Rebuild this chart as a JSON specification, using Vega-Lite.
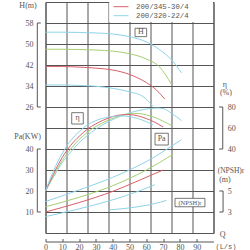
{
  "$schema": "https://vega.github.io/schema/vega-lite/v6.json",
  "width": 168,
  "height": 231,
  "autosize": {"type": "none"},
  "padding": {"left": 45.5, "top": 2, "right": 36.5, "bottom": 17},
  "config": {
    "view": {"stroke": "#555", "strokeWidth": 1},
    "axis": {"labelFont": "Liberation Serif", "labelFontSize": 8, "labelColor": "#555", "gridColor": "#555", "gridWidth": 1, "gridOpacity": 1, "domainColor": "#555", "tickColor": "#555", "labelFlush": false, "labelOverlap": false},
    "text": {"font": "Liberation Serif", "fontSize": 8, "color": "#555"},
    "rule": {"color": "#555", "strokeWidth": 1}
  },
  "datasets": {
    "hd": [
      {"m": "200/400-45/4", "q": 0, "v": 54.5}, {"m": "200/400-45/4", "q": 10, "v": 54.5}, {"m": "200/400-45/4", "q": 20, "v": 54.4}, {"m": "200/400-45/4", "q": 30, "v": 54.2}, {"m": "200/400-45/4", "q": 40, "v": 53.8}, {"m": "200/400-45/4", "q": 50, "v": 52.8}, {"m": "200/400-45/4", "q": 60, "v": 50.8}, {"m": "200/400-45/4", "q": 68, "v": 47.8}, {"m": "200/400-45/4", "q": 75, "v": 44}, {"m": "200/400-45/4", "q": 81, "v": 39},
      {"m": "200/370-37/4", "q": 0, "v": 48}, {"m": "200/370-37/4", "q": 10, "v": 48}, {"m": "200/370-37/4", "q": 20, "v": 47.9}, {"m": "200/370-37/4", "q": 30, "v": 47.7}, {"m": "200/370-37/4", "q": 40, "v": 47.3}, {"m": "200/370-37/4", "q": 50, "v": 46.3}, {"m": "200/370-37/4", "q": 60, "v": 44.3}, {"m": "200/370-37/4", "q": 68, "v": 41.2}, {"m": "200/370-37/4", "q": 75, "v": 34.6},
      {"m": "200/345-30/4", "q": 0, "v": 41.4}, {"m": "200/345-30/4", "q": 10, "v": 41.4}, {"m": "200/345-30/4", "q": 20, "v": 41.2}, {"m": "200/345-30/4", "q": 30, "v": 40.8}, {"m": "200/345-30/4", "q": 40, "v": 40.1}, {"m": "200/345-30/4", "q": 50, "v": 38.4}, {"m": "200/345-30/4", "q": 60, "v": 35.3}, {"m": "200/345-30/4", "q": 66, "v": 32.5}, {"m": "200/345-30/4", "q": 71, "v": 29},
      {"m": "200/320-22/4", "q": 0, "v": 34.4}, {"m": "200/320-22/4", "q": 10, "v": 34.4}, {"m": "200/320-22/4", "q": 20, "v": 34.2}, {"m": "200/320-22/4", "q": 30, "v": 33.9}, {"m": "200/320-22/4", "q": 40, "v": 33.1}, {"m": "200/320-22/4", "q": 50, "v": 31.8}, {"m": "200/320-22/4", "q": 58, "v": 30}, {"m": "200/320-22/4", "q": 64, "v": 26.3}
    ],
    "ed": [
      {"m": "200/400-45/4", "q": 0, "v": 0}, {"m": "200/400-45/4", "q": 5, "v": 14}, {"m": "200/400-45/4", "q": 10, "v": 27}, {"m": "200/400-45/4", "q": 15, "v": 37}, {"m": "200/400-45/4", "q": 20, "v": 46}, {"m": "200/400-45/4", "q": 25, "v": 53}, {"m": "200/400-45/4", "q": 30, "v": 59}, {"m": "200/400-45/4", "q": 37.5, "v": 66}, {"m": "200/400-45/4", "q": 45, "v": 71.5}, {"m": "200/400-45/4", "q": 52.5, "v": 75.5}, {"m": "200/400-45/4", "q": 60, "v": 78}, {"m": "200/400-45/4", "q": 66, "v": 79}, {"m": "200/400-45/4", "q": 70, "v": 78.5}, {"m": "200/400-45/4", "q": 75, "v": 74}, {"m": "200/400-45/4", "q": 81, "v": 67},
      {"m": "200/370-37/4", "q": 0, "v": 0}, {"m": "200/370-37/4", "q": 5, "v": 15}, {"m": "200/370-37/4", "q": 10, "v": 29}, {"m": "200/370-37/4", "q": 15, "v": 40}, {"m": "200/370-37/4", "q": 20, "v": 49}, {"m": "200/370-37/4", "q": 25, "v": 56}, {"m": "200/370-37/4", "q": 30, "v": 61.5}, {"m": "200/370-37/4", "q": 37.5, "v": 67.5}, {"m": "200/370-37/4", "q": 45, "v": 72}, {"m": "200/370-37/4", "q": 50, "v": 73.5}, {"m": "200/370-37/4", "q": 55, "v": 73.8}, {"m": "200/370-37/4", "q": 60, "v": 72.5}, {"m": "200/370-37/4", "q": 66, "v": 69.5}, {"m": "200/370-37/4", "q": 70, "v": 66.5}, {"m": "200/370-37/4", "q": 75, "v": 62.5},
      {"m": "200/345-30/4", "q": 0, "v": 0}, {"m": "200/345-30/4", "q": 5, "v": 17}, {"m": "200/345-30/4", "q": 10, "v": 32}, {"m": "200/345-30/4", "q": 15, "v": 43.5}, {"m": "200/345-30/4", "q": 20, "v": 52}, {"m": "200/345-30/4", "q": 25, "v": 59}, {"m": "200/345-30/4", "q": 30, "v": 64}, {"m": "200/345-30/4", "q": 37.5, "v": 69.5}, {"m": "200/345-30/4", "q": 45, "v": 72.5}, {"m": "200/345-30/4", "q": 50, "v": 72.8}, {"m": "200/345-30/4", "q": 55, "v": 71.5}, {"m": "200/345-30/4", "q": 60, "v": 69}, {"m": "200/345-30/4", "q": 65, "v": 65.5}, {"m": "200/345-30/4", "q": 70, "v": 61},
      {"m": "200/320-22/4", "q": 0, "v": 0}, {"m": "200/320-22/4", "q": 5, "v": 20}, {"m": "200/320-22/4", "q": 10, "v": 36}, {"m": "200/320-22/4", "q": 15, "v": 48}, {"m": "200/320-22/4", "q": 20, "v": 56.5}, {"m": "200/320-22/4", "q": 25, "v": 63}, {"m": "200/320-22/4", "q": 30, "v": 67}, {"m": "200/320-22/4", "q": 37.5, "v": 70.5}, {"m": "200/320-22/4", "q": 45, "v": 71.5}, {"m": "200/320-22/4", "q": 50, "v": 70.8}, {"m": "200/320-22/4", "q": 55, "v": 69}, {"m": "200/320-22/4", "q": 60, "v": 66}, {"m": "200/320-22/4", "q": 64, "v": 63}
    ],
    "pd": [
      {"m": "200/400-45/4", "q": 0, "v": 15}, {"m": "200/400-45/4", "q": 20, "v": 20.5}, {"m": "200/400-45/4", "q": 40, "v": 26.5}, {"m": "200/400-45/4", "q": 60, "v": 34}, {"m": "200/400-45/4", "q": 81, "v": 44.5},
      {"m": "200/370-37/4", "q": 0, "v": 12.5}, {"m": "200/370-37/4", "q": 20, "v": 17}, {"m": "200/370-37/4", "q": 40, "v": 22.5}, {"m": "200/370-37/4", "q": 60, "v": 30}, {"m": "200/370-37/4", "q": 76, "v": 37.5},
      {"m": "200/345-30/4", "q": 0, "v": 10}, {"m": "200/345-30/4", "q": 20, "v": 14.5}, {"m": "200/345-30/4", "q": 40, "v": 19.8}, {"m": "200/345-30/4", "q": 55, "v": 24.8}, {"m": "200/345-30/4", "q": 70, "v": 30},
      {"m": "200/320-22/4", "q": 0, "v": 7.8}, {"m": "200/320-22/4", "q": 20, "v": 11.5}, {"m": "200/320-22/4", "q": 40, "v": 15.8}, {"m": "200/320-22/4", "q": 55, "v": 19.8}, {"m": "200/320-22/4", "q": 65, "v": 23}
    ],
    "nd": [
      {"m": "200/400-45/4", "q": 38, "v": 3.2}, {"m": "200/400-45/4", "q": 45, "v": 3.3}, {"m": "200/400-45/4", "q": 55, "v": 3.5}, {"m": "200/400-45/4", "q": 65, "v": 3.8}, {"m": "200/400-45/4", "q": 72, "v": 4.1}
    ]
  },
  "resolve": {"scale": {"x": "independent", "y": "independent"}},
  "layer": [
    {
      "layer": [
        {"data": {"values": [{}]}, "mark": {"type": "rect", "fill": "white"}, "encoding": {"x": {"datum": 37.9, "type": "quantitative", "scale": {"domain": [0, 100], "nice": false, "zero": false}}, "x2": {"datum": 99.7}, "y": {"datum": 58.4, "type": "quantitative", "scale": {"domain": [-22, 66], "nice": false, "zero": false}}, "y2": {"datum": 67}}},
        {"data": {"name": "hd"}, "mark": {"type": "line", "interpolate": "monotone", "strokeWidth": 1},
         "encoding": {
           "x": {"field": "q", "type": "quantitative", "scale": {"domain": [0, 100], "nice": false, "zero": false}, "axis": {"orient": "bottom", "values": [0, 10, 20, 30, 40, 50, 60, 70, 80, 90], "tickCount": 30, "grid": false, "offset": 8.5, "tickSize": -3, "labelPadding": 4.5, "labelOverlap": false, "title": null}},
           "y": {"field": "v", "type": "quantitative", "scale": {"domain": [-22, 66], "nice": false, "zero": false}, "axis": {"orient": "left", "values": [-22, -14, -6, 2, 10, 18, 26, 34, 42, 50, 58, 66], "tickCount": 30, "grid": true, "ticks": false, "domain": false, "labelOverlap": false, "labelExpr": "datum.value >= 26 && datum.value <= 58 ? datum.label : ''", "labelPadding": 12.5, "title": null}},
           "color": {"field": "m", "type": "nominal", "scale": {"domain": ["200/400-45/4", "200/370-37/4", "200/345-30/4", "200/320-22/4"], "range": ["#8fd3e8", "#a6cf72", "#d9606a", "#8fd3e8"]},
             "legend": {"orient": "none", "legendX": 67.5, "legendY": -17.8, "title": null, "symbolType": "stroke", "symbolSize": 225, "symbolStrokeWidth": 1, "clipHeight": 9, "rowPadding": 0, "labelOffset": 7, "labelFont": "Liberation Mono", "labelFontSize": 7.3, "labelColor": "#555", "padding": 0, "labelLimit": 0}}
         }},
        {"data": {"values": [{}]}, "mark": "rule", "encoding": {"x": {"datum": -4.88}, "y": {"datum": 26}, "y2": {"datum": 58}}},
        {"data": {"values": [{}]}, "mark": "rule", "encoding": {"x": {"datum": -4.88}, "x2": {"datum": -2.8}, "y": {"datum": 58}}},
        {"data": {"values": [{}]}, "mark": "rule", "encoding": {"x": {"datum": -4.88}, "x2": {"datum": -2.8}, "y": {"datum": 26}}},
        {"data": {"values": [{}]}, "mark": {"type": "text", "text": "H(m)"}, "encoding": {"x": {"datum": -10.4}, "y": {"datum": 64.5}}},
        {"data": {"values": [{}]}, "mark": {"type": "rect", "fill": "white", "stroke": "#555", "strokeWidth": 0.8}, "encoding": {"x": {"datum": 53.3}, "x2": {"datum": 60.2}, "y": {"datum": 56.0}, "y2": {"datum": 52.8}}},
        {"data": {"values": [{}]}, "mark": {"type": "text", "text": "H", "fontSize": 8}, "encoding": {"x": {"datum": 56.75}, "y": {"datum": 54.4}}}
      ]
    },
    {
      "layer": [
        {"data": {"name": "ed"}, "mark": {"type": "line", "interpolate": "monotone", "strokeWidth": 1},
         "encoding": {
           "x": {"field": "q", "type": "quantitative", "scale": {"domain": [0, 100], "nice": false, "zero": false}, "axis": {"orient": "top", "values": [0, 12.5, 25, 37.5, 50, 62.5, 75, 87.5, 100], "tickCount": 30, "grid": true, "labels": false, "ticks": false, "domain": false, "title": null}},
           "y": {"field": "v", "type": "quantitative", "scale": {"domain": [-40, 180], "nice": false, "zero": false}, "axis": {"orient": "right", "values": [40, 60, 80], "tickCount": 30, "grid": false, "ticks": false, "domain": false, "labelOverlap": false, "labelPadding": 13.8, "title": null}},
           "color": {"field": "m", "type": "nominal"}
         }},
        {"data": {"values": [{}]}, "mark": "rule", "encoding": {"x": {"datum": 105.5}, "y": {"datum": 40}, "y2": {"datum": 80}}},
        {"data": {"values": [{}]}, "mark": "rule", "encoding": {"x": {"datum": 103.3}, "x2": {"datum": 105.5}, "y": {"datum": 80}}},
        {"data": {"values": [{}]}, "mark": "rule", "encoding": {"x": {"datum": 103.3}, "x2": {"datum": 105.5}, "y": {"datum": 40}}},
        {"data": {"values": [{}]}, "mark": {"type": "text", "text": "η"}, "encoding": {"x": {"datum": 106.8}, "y": {"datum": 101.4}}},
        {"data": {"values": [{}]}, "mark": {"type": "text", "text": "(%)"}, "encoding": {"x": {"datum": 107.4}, "y": {"datum": 93}}},
        {"data": {"values": [{}]}, "mark": {"type": "rect", "fill": "white", "stroke": "#555", "strokeWidth": 0.8}, "encoding": {"x": {"datum": 15.6}, "x2": {"datum": 22.5}, "y": {"datum": 74.6}, "y2": {"datum": 63.8}}},
        {"data": {"values": [{}]}, "mark": {"type": "text", "text": "η", "fontSize": 8}, "encoding": {"x": {"datum": 19.05}, "y": {"datum": 69.2}}}
      ]
    },
    {
      "layer": [
        {"data": {"name": "pd"}, "mark": {"type": "line", "interpolate": "monotone", "strokeWidth": 1},
         "encoding": {
           "x": {"field": "q", "type": "quantitative", "scale": {"domain": [0, 100], "nice": false, "zero": false}, "axis": null},
           "y": {"field": "v", "type": "quantitative", "scale": {"domain": [0, 110], "nice": false, "zero": false}, "axis": {"orient": "left", "values": [10, 20, 30, 40], "tickCount": 30, "grid": false, "ticks": false, "domain": false, "labelOverlap": false, "labelPadding": 12.5, "title": null}},
           "color": {"field": "m", "type": "nominal"}
         }},
        {"data": {"values": [{}]}, "mark": "rule", "encoding": {"x": {"datum": -4.88}, "y": {"datum": 10}, "y2": {"datum": 40}}},
        {"data": {"values": [{}]}, "mark": "rule", "encoding": {"x": {"datum": -4.88}, "x2": {"datum": -2.8}, "y": {"datum": 40}}},
        {"data": {"values": [{}]}, "mark": "rule", "encoding": {"x": {"datum": -4.88}, "x2": {"datum": -2.8}, "y": {"datum": 10}}},
        {"data": {"values": [{}]}, "mark": {"type": "text", "text": "Pa(KW)"}, "encoding": {"x": {"datum": -10.7}, "y": {"datum": 45.95}}},
        {"data": {"values": [{}]}, "mark": {"type": "rect", "fill": "white", "stroke": "#555", "strokeWidth": 0.8}, "encoding": {"x": {"datum": 65.2}, "x2": {"datum": 73.1}, "y": {"datum": 47.5}, "y2": {"datum": 41.9}}},
        {"data": {"values": [{}]}, "mark": {"type": "text", "text": "Pa", "fontSize": 8}, "encoding": {"x": {"datum": 69.15}, "y": {"datum": 44.7}}}
      ]
    },
    {
      "layer": [
        {"data": {"name": "nd"}, "mark": {"type": "line", "interpolate": "monotone", "strokeWidth": 1},
         "encoding": {
           "x": {"field": "q", "type": "quantitative", "scale": {"domain": [0, 100], "nice": false, "zero": false}, "axis": null},
           "y": {"field": "v", "type": "quantitative", "scale": {"domain": [1, 23], "nice": false, "zero": false}, "axis": {"orient": "right", "values": [3, 5], "tickCount": 30, "grid": false, "ticks": false, "domain": false, "labelOverlap": false, "labelPadding": 13.8, "title": null}},
           "color": {"field": "m", "type": "nominal"}
         }},
        {"data": {"values": [{}]}, "mark": "rule", "encoding": {"x": {"datum": 105.7}, "y": {"datum": 3}, "y2": {"datum": 5}}},
        {"data": {"values": [{}]}, "mark": "rule", "encoding": {"x": {"datum": 103.5}, "x2": {"datum": 105.7}, "y": {"datum": 5}}},
        {"data": {"values": [{}]}, "mark": "rule", "encoding": {"x": {"datum": 103.5}, "x2": {"datum": 105.7}, "y": {"datum": 3}}},
        {"data": {"values": [{}]}, "mark": {"type": "text", "text": "(NPSH)r", "fontSize": 7.5}, "encoding": {"x": {"datum": 110.4}, "y": {"datum": 6.95}}},
        {"data": {"values": [{}]}, "mark": {"type": "text", "text": "(m)"}, "encoding": {"x": {"datum": 106.8}, "y": {"datum": 6.05}}},
        {"data": {"values": [{}]}, "mark": {"type": "rect", "fill": "white", "stroke": "#555", "strokeWidth": 0.8}, "encoding": {"x": {"datum": 77.1}, "x2": {"datum": 94.9}, "y": {"datum": 4.3}, "y2": {"datum": 3.5}}},
        {"data": {"values": [{}]}, "mark": {"type": "text", "text": "(NPSH)r", "fontSize": 6.5}, "encoding": {"x": {"datum": 86}, "y": {"datum": 3.9}}},
        {"data": {"values": [{}]}, "mark": {"type": "text", "text": "Q", "fontSize": 8}, "encoding": {"x": {"datum": 105.4}, "y": {"datum": 0.81}}},
        {"data": {"values": [{}]}, "mark": {"type": "text", "text": "(L/s)", "font": "Liberation Mono", "fontSize": 7}, "encoding": {"x": {"datum": 107.4}, "y": {"datum": -0.29}}}
      ]
    }
  ]
}
